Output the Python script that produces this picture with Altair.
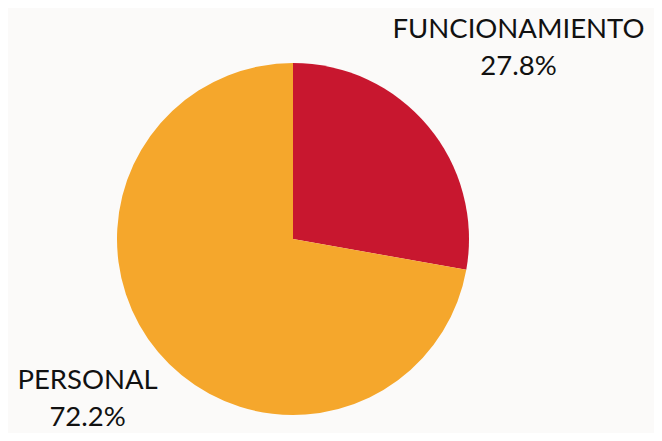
import altair as alt
import pandas as pd

categories = ["FUNCIONAMIENTO", "PERSONAL"]
shares = [27.8, 72.2]
orden = [0, 1]
colors = ["#C8172F", "#F5A72C"]

df = pd.DataFrame({"categoria": categories, "pct": shares, "orden": orden})

pie = alt.Chart(df).mark_arc(radius=176, strokeWidth=0).encode(
    theta=alt.Theta("pct:Q", stack=True),
    order=alt.Order("orden:Q"),
    x=alt.value(285),
    y=alt.value(231),
    color=alt.Color("categoria:N", scale=alt.Scale(domain=categories, range=colors), legend=None),
)

lab_base = alt.Chart(df).transform_window(
    cum="sum(pct)", sort=[alt.SortField("orden")]
).transform_joinaggregate(
    total="sum(pct)"
).transform_calculate(
    mid="(datum.cum - datum.pct / 2) / datum.total * 100",
    label="[datum.categoria, format(datum.pct, '.1f') + '%']",
)


def label_layer(cat, r, dx, dy):
    return lab_base.transform_filter(alt.datum.categoria == cat).mark_text(
        font="Lato", fontSize=27.5, lineHeight=37, align="center", baseline="middle",
        color="#111111", radius=r, dx=dx, dy=dy,
    ).encode(
        theta=alt.Theta("mid:Q", stack=None, scale=alt.Scale(domain=[0, 100], range=[0, 6.283185307])),
        x=alt.value(285),
        y=alt.value(231),
        text="label:N",
    )


chart = alt.layer(
    pie,
    label_layer("FUNCIONAMIENTO", 302, -6, -15),
    label_layer("PERSONAL", 268, 0, -30),
).resolve_scale(theta="independent").properties(
    width=646, height=425, autosize="none", padding=0, background="#FBFAF9"
).configure_view(stroke=None)

chart.save("out.html", embed_options={"renderer": "svg", "actions": False})
